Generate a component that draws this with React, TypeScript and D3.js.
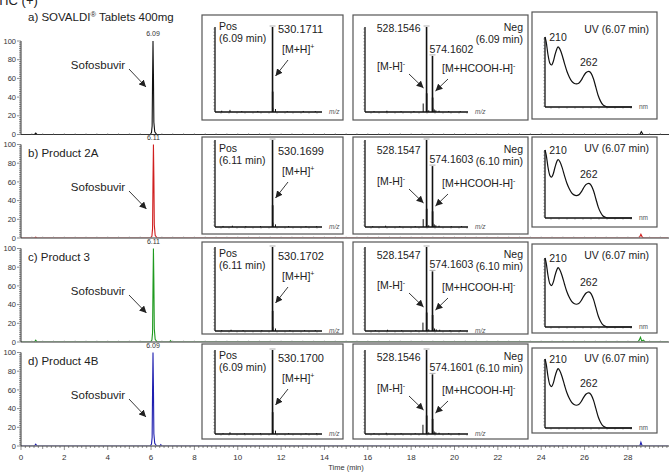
import * as d3 from 'd3'

const FONT = "'Liberation Sans', Arial, sans-serif"

// ---- chromatograms (TIC, % of base peak vs retention time) ----
const TIME_TICKS = [0, 2, 4, 6, 8, 10, 12, 14, 16, 18, 20, 22, 24, 26, 28]
const PCT_TICKS = [0, 20, 40, 60, 80, 100]

const SAMPLE_TITLES = ['a) SOVALDI® Tablets 400mg', 'b) Product 2A', 'c) Product 3', 'd) Product 4B']
const TRACE_COLORS = ['#111111', '#d01f1f', '#1f9a1f', '#1f1fb0']
const PEAK_RT = ['6.09', '6.11', '6.11', '6.09']

type Pt = [number, number]

const TIC_A: Pt[] = [
  [0, 0], [0.62, 0], [0.68, 1.5], [0.74, 0], [5.96, 0], [6.02, 2], [6.05, 9], [6.07, 60], [6.09, 100],
  [6.11, 64], [6.13, 13], [6.17, 3], [6.26, 0], [28.55, 0], [28.62, 3], [28.7, 0], [29.85, 0],
]
const TIC_B: Pt[] = [
  [0, 0], [0.62, 0], [0.68, 1], [0.74, 0], [5.98, 0], [6.04, 2], [6.07, 10], [6.09, 62], [6.11, 100],
  [6.13, 66], [6.15, 14], [6.19, 3], [6.28, 0], [28.52, 0], [28.6, 4], [28.66, 1], [28.72, 0], [29.85, 0],
]
const TIC_C: Pt[] = [
  [0, 0], [0.62, 0], [0.68, 2], [0.74, 0], [5.98, 0], [6.04, 2], [6.07, 10], [6.09, 60], [6.11, 100],
  [6.13, 65], [6.15, 14], [6.19, 3], [6.28, 0], [6.85, 0], [6.9, 1.5], [6.95, 0], [28.45, 0], [28.52, 2],
  [28.58, 5], [28.64, 1], [28.72, 2], [28.8, 0], [29.85, 0],
]
const TIC_D: Pt[] = [
  [0, 0], [0.62, 0], [0.68, 2], [0.74, 0], [5.96, 0], [6.02, 2], [6.05, 9], [6.07, 60], [6.09, 100],
  [6.11, 64], [6.13, 13], [6.17, 3], [6.26, 0], [6.4, 0], [6.45, 1.5], [6.5, 0], [28.55, 0], [28.6, 4],
  [28.66, 0], [29.85, 0],
]
const TIC_TRACES = [TIC_A, TIC_B, TIC_C, TIC_D]

// ---- mass spectra (stick lists: m/z, relative intensity) ----
const POS_TIMES = ['6.09', '6.11', '6.11', '6.09']
const POS_MZ = ['530.1711', '530.1699', '530.1702', '530.1700']
const NEG_TIMES = ['6.09', '6.10', '6.10', '6.10']
const NEG_MZ_H = ['528.1546', '528.1547', '528.1547', '528.1546']
const NEG_MZ_FA = ['574.1602', '574.1603', '574.1603', '574.1601']
const NEG_FA_INT = [66, 70, 71, 71]
const UV_TIMES = ['6.07', '6.07', '6.07', '6.07']

const POS_MINOR: Pt[][] = [
  [[150, 1.5], [212, 2.5], [300, 1], [420, 1.2], [531.17, 24], [532.17, 5], [552.15, 3.5], [640, 1], [760, 1.2], [850, 1]],
  [[160, 1.2], [230, 1.5], [330, 1], [440, 1], [531.17, 25], [532.17, 5], [552.15, 3], [650, 1], [780, 1], [860, 1]],
  [[150, 1], [220, 1.5], [310, 1], [450, 1], [531.17, 24], [532.17, 5], [552.15, 3], [660, 1], [770, 1], [850, 1]],
  [[160, 1], [212, 2], [320, 1], [440, 1], [531.17, 26], [532.17, 5], [552.15, 4], [650, 1], [780, 1], [860, 1]],
]
const NEG_MINOR: Pt[][] = [
  [[120, 1], [220, 1.5], [330, 1], [430, 1], [502, 10], [529.16, 22], [545, 2], [575.16, 17], [576.16, 5], [588, 3], [600, 2], [625, 1.5], [700, 1], [790, 1]],
  [[110, 1], [210, 1.5], [320, 1], [440, 1], [502, 9], [529.16, 21], [545, 2], [575.16, 18], [576.16, 5], [588, 3], [600, 2], [625, 1.5], [720, 1], [800, 1]],
  [[130, 1], [225, 1.5], [335, 1], [445, 1], [500, 10], [529.16, 22], [545, 2], [575.16, 19], [576.16, 5], [590, 3], [603, 2], [630, 1.5], [710, 1], [790, 1]],
  [[120, 1], [215, 1.5], [330, 1], [440, 1], [500, 11], [529.16, 22], [545, 2], [575.16, 18], [576.16, 5], [588, 3], [600, 2], [625, 1.5], [700, 1], [780, 1]],
]

// ---- UV spectrum at the peak apex (nm, relative absorbance) ----
const UV_NM = [188, 190, 193, 196, 199, 202, 205, 208, 210, 213, 217, 221, 225, 229, 233, 237, 241, 245, 249, 253, 257, 262, 266, 270, 274, 278, 282, 286, 290, 294, 335]
const UV_ABS = [1.0, 0.93, 0.75, 0.63, 0.6, 0.65, 0.75, 0.83, 0.86, 0.83, 0.74, 0.62, 0.51, 0.43, 0.37, 0.34, 0.33, 0.34, 0.38, 0.44, 0.49, 0.51, 0.48, 0.4, 0.28, 0.16, 0.08, 0.03, 0.01, 0, 0]
const UV_MAXIMA = [210, 262]

// ---- layout ----
const ROW_TOP = [41, 144.5, 248.5, 352.5]
const ROW_H = 93.5
const SOFOS_DY = [24, 42.5, 42.5, 42.5]
const MS_BOX_TOP = [15, 137, 242, 344]
const MS_BOX_BOT = [120, 234, 334, 439]
const MS_AX_TOP = [27, 140, 247, 350]
const MS_AX_BOT = [112, 227, 331, 434]
const UV_BOX_TOP = [12, 137, 244, 348]
const UV_BOX_BOT = [119, 227, 333, 433]
const UV_AX_TOP = [37, 150, 258, 359]
const UV_AX_BOT = [107, 218, 327, 428]

const POS_BOX = [202, 343]
const NEG_BOX = [353, 528]
const UV_BOX = [532, 657]

const x = d3.scaleLinear().domain([0, 29.85]).range([21, 668])
const posX = d3.scaleLinear().domain([100, 900]).range([215, 322])
const negX = d3.scaleLinear().domain([50, 850]).range([365, 468])
const uvX = d3.scaleLinear().domain([188, 335]).range([545, 632])

const INK = '#222'

function Arrow({ x1, y1, x2, y2 }: { x1: number; y1: number; x2: number; y2: number }) {
  return <line x1={x1} y1={y1} x2={x2} y2={y2} stroke={INK} strokeWidth={0.9} markerEnd="url(#ah)" />
}

function SpecAxes({ sx, top, bot, unit }: { sx: d3.ScaleLinear<number, number>; top: number; bot: number; unit: string }) {
  const [l, r] = sx.range()
  const yTicks = d3.range(top + 2, bot, 3.2)
  const xTicks = d3.range(l + 6, r, 8)
  return (
    <g>
      {yTicks.map((t, i) => (
        <line key={'y' + i} x1={l - 2} x2={l} y1={t} y2={t} stroke="#999" strokeWidth={0.6} />
      ))}
      {xTicks.map((t, i) => (
        <line key={'x' + i} x1={t} x2={t} y1={bot} y2={bot + 2} stroke="#999" strokeWidth={0.6} />
      ))}
      <line x1={l} x2={l} y1={top} y2={bot} stroke="#111" strokeWidth={1.3} />
      <line x1={l} x2={r} y1={bot} y2={bot} stroke="#111" strokeWidth={1.3} />
      <text x={r + 7} y={bot + 2} fontSize={6.5} fontStyle={unit === 'm/z' ? 'italic' : 'normal'} fill="#555">{unit}</text>
    </g>
  )
}

function Sticks({ sx, sy, pts }: { sx: d3.ScaleLinear<number, number>; sy: d3.ScaleLinear<number, number>; pts: Pt[] }) {
  return (
    <g>
      {pts.map(([m, v], i) => (
        <line key={i} x1={sx(m)} x2={sx(m)} y1={sy(0)} y2={sy(v)} stroke="#111" strokeWidth={v > 15 ? 1.6 : 1} />
      ))}
    </g>
  )
}

function Cap({ cx, cy }: { cx: number; cy: number }) {
  return <line x1={cx - 3} x2={cx + 3} y1={cy - 1} y2={cy - 1} stroke="#999" strokeWidth={0.8} />
}

function Row({ i }: { i: number }) {
  const top = ROW_TOP[i]
  const y = d3.scaleLinear().domain([0, 100]).range([top + ROW_H, top])
  const y0 = y(0)
  const rt = parseFloat(PEAK_RT[i])
  const line = d3.line<Pt>().x((d) => x(d[0])).y((d) => y(d[1]))
  const [t1, t2] = SAMPLE_TITLES[i].split('®')

  const msTop = MS_BOX_TOP[i]
  const msy = d3.scaleLinear().domain([0, 100]).range([MS_AX_BOT[i], MS_AX_TOP[i]])
  const posMz = parseFloat(POS_MZ[i])
  const negH = parseFloat(NEG_MZ_H[i])
  const negFa = parseFloat(NEG_MZ_FA[i])
  const faTop = msy(NEG_FA_INT[i])

  const uvy = d3.scaleLinear().domain([0, 1]).range([UV_AX_BOT[i], UV_AX_TOP[i]])
  const uvLine = d3.line<number>().x((d) => uvX(d)).y((_, k) => uvy(UV_ABS[k])).curve(d3.curveMonotoneX)
  const sofY = top + SOFOS_DY[i]
  const titleY = i === 0 ? top - 24 : top + 8

  return (
    <g>
      <defs>
        <clipPath id={'plot' + i}>
          <rect x={x(0)} y={top - 5} width={669 - x(0)} height={y0 - top + 4.5} />
        </clipPath>
      </defs>

      {/* title */}
      <text x={28} y={titleY} dy="0.35em" fontSize={11.5} fill={INK}>
        {t1}
        {t2 !== undefined && (
          <>
            <tspan fontSize={7.5} dy={-4}>®</tspan>
            <tspan dy={4}>{t2}</tspan>
          </>
        )}
      </text>

      {/* trace */}
      <path d={line(TIC_TRACES[i]) ?? ''} fill="none" stroke={TRACE_COLORS[i]} strokeWidth={1.1} clipPath={`url(#plot${i})`} />
      <text x={x(rt)} y={y(100) - 5} fontSize={7} textAnchor="middle" fill="#333">{PEAK_RT[i]}</text>

      {/* baseline across the row */}
      <line x1={x(0)} x2={669} y1={y0} y2={y0} stroke="#333" strokeWidth={1} />
      {i < 3 &&
        d3.range(0.5, 29.8, 0.5).map((t) => (
          <line key={t} x1={x(t)} x2={x(t)} y1={y0 - 1.5} y2={y0} stroke="#888" strokeWidth={0.6} />
        ))}

      {/* y axis */}
      <line x1={x(0)} x2={x(0)} y1={y(100)} y2={y0} stroke="#333" strokeWidth={1} />
      {d3.range(0, 101, 2).map((t) => (
        <line key={t} x1={x(0) - (t % 20 === 0 ? 4 : 2)} x2={x(0)} y1={y(t)} y2={y(t)} stroke="#444" strokeWidth={0.6} />
      ))}
      {PCT_TICKS.map((t) => (
        <text key={t} x={x(0) - 5} y={y(t)} dy="0.35em" fontSize={7.5} textAnchor="end" fill="#333">{t}</text>
      ))}

      <text x={98} y={sofY} dy="0.35em" fontSize={11.5} textAnchor="middle" fill={INK}>Sofosbuvir</text>
      <Arrow x1={129} y1={sofY + 4} x2={x(rt) - 7} y2={sofY + 22} />

      {/* positive-ion spectrum */}
      <rect x={POS_BOX[0]} y={msTop} width={POS_BOX[1] - POS_BOX[0]} height={MS_BOX_BOT[i] - msTop} fill="#fff" stroke="#555" strokeWidth={1.2} />
      <SpecAxes sx={posX} top={MS_AX_TOP[i]} bot={MS_AX_BOT[i]} unit="m/z" />
      <Sticks sx={posX} sy={msy} pts={[...POS_MINOR[i], [posMz, 100]]} />
      <Cap cx={posX(posMz)} cy={msy(100)} />
      <text x={219} y={msTop + 11} dy="0.35em" fontSize={10.5} fill={INK}>Pos</text>
      <text x={219} y={msTop + 23} dy="0.35em" fontSize={10.5} fill={INK}>({POS_TIMES[i]} min)</text>
      <text x={278} y={msTop + 14} dy="0.35em" fontSize={11} fill={INK}>{POS_MZ[i]}</text>
      <text x={282} y={msTop + 34} dy="0.35em" fontSize={10.5} fill={INK}>
        [M+H]<tspan fontSize={7} dy={-4}>+</tspan>
      </text>
      <Arrow x1={288} y1={msTop + 45} x2={posX(posMz) + 3} y2={msTop + 61} />

      {/* negative-ion spectrum */}
      <rect x={NEG_BOX[0]} y={msTop} width={NEG_BOX[1] - NEG_BOX[0]} height={MS_BOX_BOT[i] - msTop} fill="#fff" stroke="#555" strokeWidth={1.2} />
      <SpecAxes sx={negX} top={MS_AX_TOP[i]} bot={MS_AX_BOT[i]} unit="m/z" />
      <Sticks sx={negX} sy={msy} pts={[...NEG_MINOR[i], [negH, 100], [negFa, NEG_FA_INT[i]]]} />
      <Cap cx={negX(negH)} cy={msy(100)} />
      <Cap cx={negX(negFa)} cy={faTop} />
      <text x={negX(negH) - 6} y={msTop + 13} dy="0.35em" fontSize={10.5} textAnchor="end" fill={INK}>{NEG_MZ_H[i]}</text>
      <text x={negX(negFa) - 3} y={faTop - 7} dy="0.35em" fontSize={10.5} fill={INK}>{NEG_MZ_FA[i]}</text>
      <text x={NEG_BOX[1] - 5} y={msTop + 12} dy="0.35em" fontSize={10.5} textAnchor="end" fill={INK}>Neg</text>
      <text x={NEG_BOX[1] - 5} y={msTop + 24} dy="0.35em" fontSize={10.5} textAnchor="end" fill={INK}>({NEG_TIMES[i]} min)</text>
      <text x={377} y={MS_AX_BOT[i] - 46} dy="0.35em" fontSize={10.5} fill={INK}>
        [M-H]<tspan fontSize={7} dy={-4}>-</tspan>
      </text>
      <Arrow x1={409} y1={MS_AX_BOT[i] - 38} x2={negX(negH) - 3} y2={MS_AX_BOT[i] - 24} />
      <text x={442} y={MS_AX_BOT[i] - 44} dy="0.35em" fontSize={10.5} fill={INK}>
        [M+HCOOH-H]<tspan fontSize={7} dy={-4}>-</tspan>
      </text>
      <Arrow x1={448} y1={MS_AX_BOT[i] - 33} x2={negX(negFa) + 3} y2={MS_AX_BOT[i] - 21} />

      {/* UV spectrum */}
      <rect x={UV_BOX[0]} y={UV_BOX_TOP[i]} width={UV_BOX[1] - UV_BOX[0]} height={UV_BOX_BOT[i] - UV_BOX_TOP[i]} fill="#fff" stroke="#555" strokeWidth={1.2} />
      <SpecAxes sx={uvX} top={UV_AX_TOP[i]} bot={UV_AX_BOT[i]} unit="nm" />
      <path d={uvLine(UV_NM) ?? ''} fill="none" stroke="#111" strokeWidth={1.2} />
      {UV_MAXIMA.map((nm) => {
        const k = UV_NM.indexOf(nm)
        return (
          <text key={nm} x={uvX(nm)} y={uvy(UV_ABS[k]) - 9} dy="0.35em" fontSize={10.5} textAnchor="middle" fill={INK}>{nm}</text>
        )
      })}
      <text x={649} y={(UV_BOX_TOP[i] + UV_AX_TOP[i]) / 2 + 4.5} dy="0.35em" fontSize={10.5} textAnchor="end" fill={INK}>
        UV ({UV_TIMES[i]} min)
      </text>
    </g>
  )
}

export default function App() {
  const bottom = ROW_TOP[3] + ROW_H
  return (
    <svg
      width={669}
      height={473}
      style={{ position: 'absolute', left: 0, top: 0, background: '#fff' }}
      fontFamily={FONT}
    >
      <defs>
        <marker id="ah" viewBox="0 0 8 8" refX={8} refY={4} markerWidth={7} markerHeight={7} markerUnits="userSpaceOnUse" orient="auto">
          <path d="M0,0 L8,4 L0,8 z" fill={INK} />
        </marker>
      </defs>
      <rect width={669} height={473} fill="#fff" />
      <text x={-3} y={5} fontSize={13} fill={INK}>TIC (+)</text>

      {ROW_TOP.map((_, i) => (
        <Row key={i} i={i} />
      ))}

      {/* shared time axis */}
      {d3.range(0, 29.81, 0.2).map((t, k) => (
        <line key={k} x1={x(t)} x2={x(t)} y1={bottom} y2={bottom + (k % 10 === 0 ? 4 : k % 5 === 0 ? 3 : 2)} stroke="#444" strokeWidth={0.6} />
      ))}
      {TIME_TICKS.map((t) => (
        <text key={t} x={x(t)} y={bottom + 11} dy="0.35em" fontSize={8} textAnchor="middle" fill="#333">{t}</text>
      ))}
      <text x={346} y={467} dy="0.35em" fontSize={7.5} textAnchor="middle" fill="#333">Time (min)</text>
    </svg>
  )
}
